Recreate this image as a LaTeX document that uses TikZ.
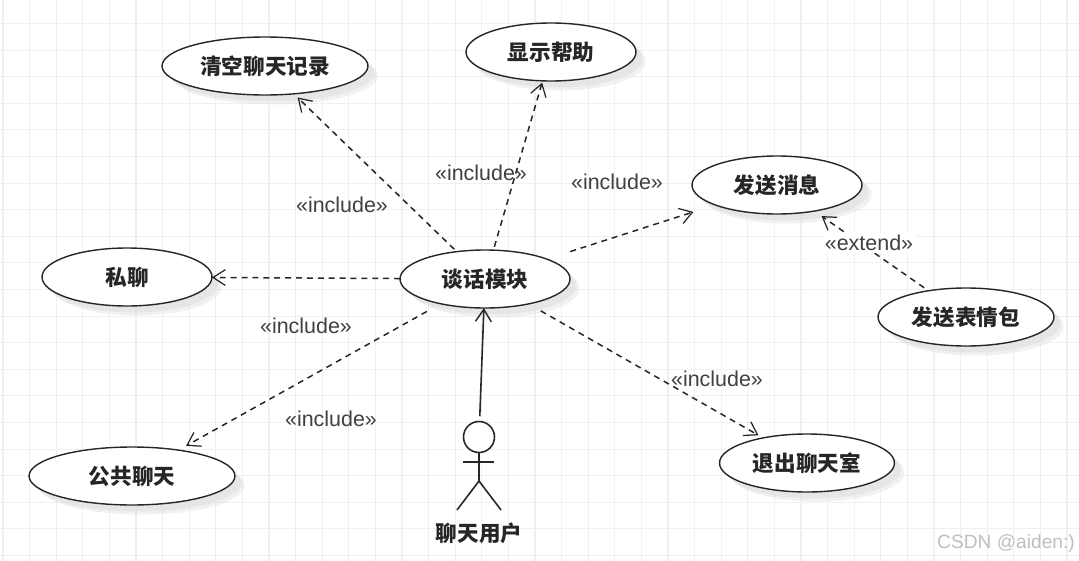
\documentclass[tikz,border=0pt]{standalone}
\usepackage{fontspec}
\setmainfont{Liberation Sans}
\newfontfamily\cjk{Noto Sans CJK SC}
\usetikzlibrary{arrows.meta,shapes.geometric,shadows}

\tikzset{
    usecase/.style={draw=black!85, fill=white, ellipse, line width=0.8pt, inner sep=0pt, outer sep=0pt,
        minimum height=1.16cm, font=\cjk\bfseries\fontsize{12.3}{14}\selectfont, text=black!85,
        drop shadow={shadow xshift=0.19cm, shadow yshift=-0.19cm, fill=black!12, opacity=0.45},
        drop shadow={shadow xshift=0.13cm, shadow yshift=-0.13cm, fill=black!12, opacity=0.6}},
    dep/.style={draw=black!85, dash pattern=on 3.4pt off 2.8pt, line width=0.85pt,
        -{Straight Barb[length=7pt,width=9pt,line width=0.7pt]}},
    assoc/.style={draw=black!85, line width=0.9pt,
        -{Straight Barb[length=7pt,width=9pt,line width=0.8pt]}},
    stereo/.style={font=\fontsize{12.2}{14}\selectfont, text=black!75, inner sep=1pt},
    limb/.style={draw=black!85, line width=0.9pt},
    gridline/.style={draw=black!6, line width=0.6pt}
}

\begin{document}
\begin{tikzpicture}[x=0.02cm, y=-0.02cm]
    \useasboundingbox (0,0) rectangle (1079,561);

    % Draw the paper grid
    \fill[white] (0,0) rectangle (1079,561);
    \foreach \gx in {0,...,40} {
        \draw[gridline] ({3+26.6*\gx},0) -- ({3+26.6*\gx},561);
    }
    \foreach \gy in {0,...,20} {
        \draw[gridline] (0,{23.5+26.6*\gy}) -- (1079,{23.5+26.6*\gy});
    }

    % Draw the use cases
    \node[usecase, minimum width=4.12cm] (clear) at (265,66) {清空聊天记录};
    \node[usecase, minimum width=3.4cm] (help) at (551,52) {显示帮助};
    \node[usecase, minimum width=3.4cm] (send) at (777,185) {发送消息};
    \node[usecase, minimum width=3.4cm] (private) at (127,277) {私聊};
    \node[usecase, minimum width=3.4cm] (talk) at (485,279) {谈话模块};
    \node[usecase, minimum width=3.52cm] (sticker) at (966,317) {发送表情包};
    \node[usecase, minimum width=3.5cm] (quit) at (807,463) {退出聊天室};
    \node[usecase, minimum width=4.12cm] (public) at (132,476) {公共聊天};

    % Draw the actor
    \node[draw=black!85, fill=white, circle, line width=0.9pt, minimum size=0.62cm, inner sep=0pt, outer sep=0pt] (head) at (479,437) {};
    \coordinate (hip) at (479,481);
    \coordinate (armleft) at (463,462);
    \coordinate (armright) at (494,462);
    \coordinate (footleft) at (457,510);
    \coordinate (footright) at (501,510);
    \draw[limb] (head) -- (hip);
    \draw[limb] (armleft) -- (armright);
    \draw[limb] (footleft) -- (hip) -- (footright);
    \node[font=\cjk\bfseries\fontsize{12.3}{14}\selectfont, text=black!85] (user) at (479,533) {聊天用户};

    % Draw the connectors
    \draw[assoc, shorten <=3pt] (head) -- (talk);
    \draw[dep, shorten <=2pt, shorten >=3pt] (talk) -- (clear);
    \draw[dep, shorten <=2pt, shorten >=1pt] (talk) -- (help);
    \draw[dep, shorten <=14pt, shorten >=13pt] (talk) -- (send);
    \draw[dep] (talk) -- (private);
    \draw[dep, shorten <=9pt, shorten >=5pt] (talk) -- (public);
    \draw[dep, shorten <=8pt, shorten >=3pt] (talk) -- (quit);
    \draw[dep, shorten <=3pt, shorten >=5pt] (sticker) -- (send);

    % Label the connectors
    \node[stereo] (lclear) at (342,205) {«include»};
    \node[stereo] (lhelp) at (481,173) {«include»};
    \node[stereo] (lsend) at (617,182) {«include»};
    \node[stereo] (lprivate) at (306,326) {«include»};
    \node[stereo] (lpublic) at (331,419) {«include»};
    \node[stereo] (lquit) at (717,379) {«include»};
    \node[stereo, fill=white] (lextend) at (869,243) {«extend»};

    % Watermark
    \node[font=\fontsize{10.9}{13}\selectfont, text=black!25, inner sep=0pt] (mark) at (1006,544) {CSDN @aiden:)};
\end{tikzpicture}
\end{document}
